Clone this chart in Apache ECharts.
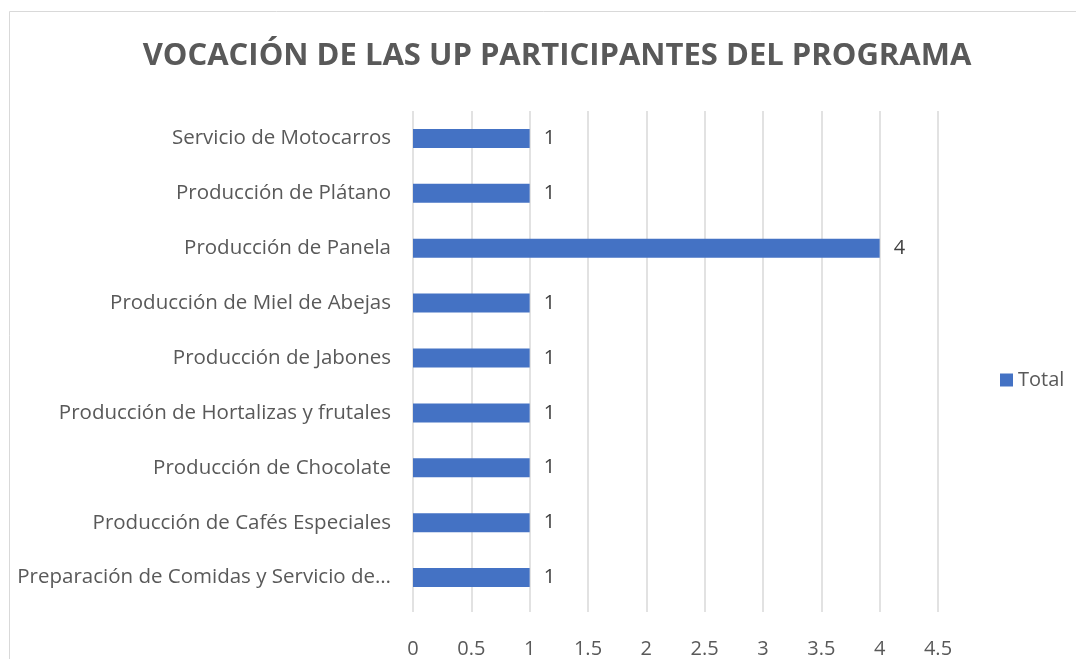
<!DOCTYPE html>
<html>
<head>
<meta charset="utf-8">
<script src="https://cdn.jsdelivr.net/npm/echarts@6/dist/echarts.min.js"></script>
<style>
  html, body { margin: 0; padding: 0; background: #fff; }
  #chart { width: 1076px; height: 659px; }
</style>
</head>
<body>
<div id="chart"></div>
<script>
// categories bottom to top, as echarts draws category y axis
const categories = [
  'Preparación de Comidas y Servicio de…',
  'Producción de Cafés Especiales',
  'Producción de Chocolate',
  'Producción de Hortalizas y frutales',
  'Producción de Jabones',
  'Producción de Miel de Abejas',
  'Producción de Panela',
  'Producción de Plátano',
  'Servicio de Motocarros'
];
const totals = [1, 1, 1, 1, 1, 1, 4, 1, 1];
const xTicks = [0, 0.5, 1, 1.5, 2, 2.5, 3, 3.5, 4, 4.5];

const chart = echarts.init(document.getElementById('chart'));

const font = '"Open Sans", Roboto, sans-serif';

chart.setOption({
  animation: false,
  title: {
    text: 'VOCACIÓN DE LAS UP PARTICIPANTES DEL PROGRAMA',
    left: 552,
    top: 36,
    textAlign: 'center',
    textStyle: {
      fontFamily: font,
      fontWeight: 'bold',
      fontSize: 31,
      color: '#595959'
    }
  },
  graphic: [{
    type: 'rect',
    shape: { x: 9.5, y: 11.5, width: 1100, height: 700 },
    style: { fill: 'none', stroke: '#d9d9d9', lineWidth: 1 },
    silent: true
  }],
  legend: {
    data: ['Total'],
    left: 995,
    top: 365,
    itemWidth: 13,
    itemHeight: 13,
    itemGap: 5,
    icon: 'rect',
    textStyle: { fontFamily: font, fontSize: 20, color: '#595959' }
  },
  grid: {
    left: 413,
    right: 1076 - 938,
    top: 111,
    bottom: 659 - 605,
    containLabel: false
  },
  xAxis: {
    type: 'value',
    min: 0,
    max: 4.5,
    interval: 0.5,
    axisLine: { show: false },
    axisTick: { show: true, length: 7, lineStyle: { color: '#d9d9d9', width: 1.5 } },
    splitLine: { show: true, lineStyle: { color: '#d9d9d9', width: 1.5 } },
    axisLabel: {
      margin: 34,
      fontFamily: font,
      fontSize: 20,
      color: '#595959',
      formatter: v => xTicks.includes(v) ? String(v) : ''
    }
  },
  yAxis: {
    type: 'category',
    data: categories,
    axisLine: { show: false },
    axisTick: { show: false },
    axisLabel: {
      margin: 22,
      fontFamily: font,
      fontSize: 20.5,
      color: '#595959'
    }
  },
  series: [{
    name: 'Total',
    type: 'bar',
    data: totals,
    barWidth: 19,
    itemStyle: { color: '#4472C4' },
    label: {
      show: true,
      position: 'right',
      distance: 14,
      fontFamily: font,
      fontSize: 20,
      color: '#404040'
    }
  }]
});
</script>
</body>
</html>
